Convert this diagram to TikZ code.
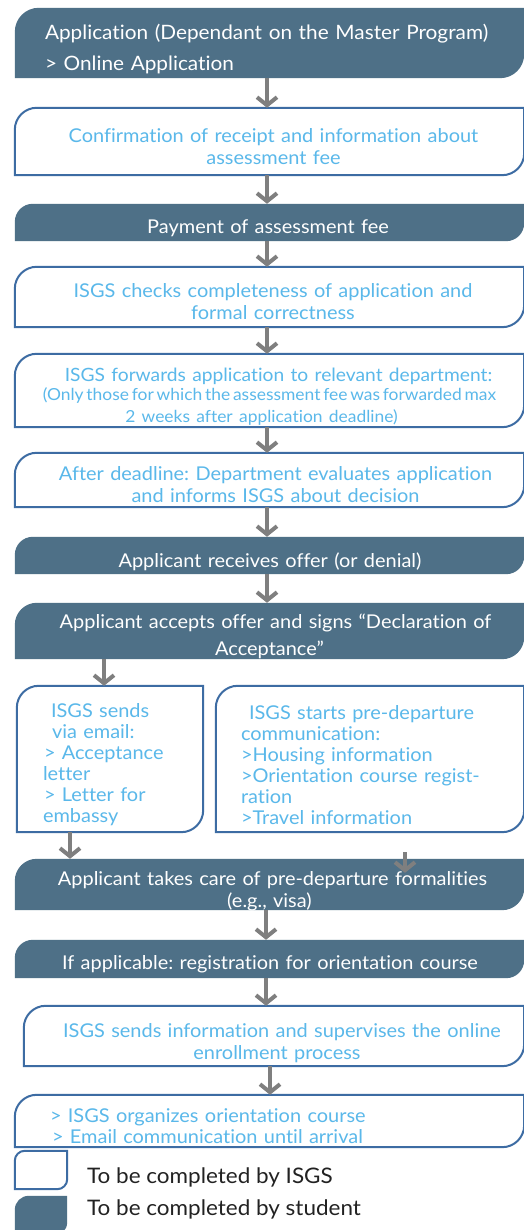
\documentclass[tikz,border=0pt]{standalone}
\usepackage{fontspec}
\setmainfont{Lato}[Ligatures=NoCommon, FakeStretch=1.05]
\usetikzlibrary{arrows.meta,backgrounds}
\definecolor{darkfill}{HTML}{4E7087}
\definecolor{bordblue}{HTML}{3D6CA3}
\definecolor{txtblue}{HTML}{5AB8EA}
\definecolor{arrgray}{HTML}{7F7F7F}
\definecolor{legtxt}{HTML}{222222}
\newcommand\fsz[2]{\fontsize{#1}{#2}\selectfont}
% rounded top-left and bottom-right corners
\newcommand\rshape[3]{%
  \begin{scope}[on background layer]
  \path[#3] (#1.south west) -- ([yshift=-#2]#1.north west)
    arc[start angle=180,end angle=90,radius=#2] -- (#1.north east)
    -- ([yshift=#2]#1.south east)
    arc[start angle=0,end angle=-90,radius=#2] -- cycle;
  \end{scope}}
\tikzset{
  box/.style={rectangle, inner sep=0pt, draw=none},
  txt/.style={inner sep=0pt, align=center, text width=490pt, font=\fsz{19}{22},
    execute at begin node={\frenchspacing}},
  stxt/.style={txt, text=white},
  itxt/.style={txt, text=txtblue},
  studfill/.style={fill=darkfill},
  isgsline/.style={fill=white, draw=bordblue, line width=2pt},
  arr/.style={draw=arrgray, line width=4pt, -{Straight Barb[length=8pt,width=20pt]}},
  legend/.style={anchor=west, inner sep=0pt, text=legtxt, font=\fsz{21.4}{22}}
}
\begin{document}
\begin{tikzpicture}[x=1pt,y=1pt]
\useasboundingbox (0,0) rectangle (523,1230);
\begin{scope}[on background layer]
\fill[white] (0,0) rectangle (523,1230);
\end{scope}

% ---- boxes (shapes) ----
\node[box, minimum width=509pt, minimum height=70pt] (b1) at (269.5,1187) {};
\rshape{b1}{24pt}{studfill}
\node[box, minimum width=509pt, minimum height=67pt] (b2) at (269.5,1088.5) {};
\rshape{b2}{22pt}{isgsline}
\node[box, minimum width=509pt, minimum height=37pt] (b3) at (269.5,1007.5) {};
\rshape{b3}{18pt}{studfill}
\node[box, minimum width=509pt, minimum height=60pt] (b4) at (269.5,933) {};
\rshape{b4}{22pt}{isgsline}
\node[box, minimum width=509pt, minimum height=73pt] (b5) at (269.5,839.5) {};
\rshape{b5}{22pt}{isgsline}
\node[box, minimum width=509pt, minimum height=54pt] (b6) at (269.5,750) {};
\rshape{b6}{22pt}{isgsline}
\node[box, minimum width=509pt, minimum height=37pt] (b7) at (269.5,674.5) {};
\rshape{b7}{18pt}{studfill}
\node[box, minimum width=509pt, minimum height=56pt] (b8) at (269.5,599) {};
\rshape{b8}{22pt}{studfill}
\node[box, minimum width=186pt, minimum height=146pt] (b9a) at (110,471) {};
\rshape{b9a}{22pt}{isgsline}
\node[box, minimum width=308pt, minimum height=146pt] (b9b) at (370,471) {};
\rshape{b9b}{22pt}{isgsline}
\node[box, minimum width=509pt, minimum height=51pt] (b10) at (269.5,345.5) {};
\rshape{b10}{22pt}{studfill}
\node[box, minimum width=509pt, minimum height=38pt] (b11) at (269.5,271) {};
\rshape{b11}{18pt}{studfill}
\node[box, minimum width=500pt, minimum height=60pt] (b12) at (274,194) {};
\rshape{b12}{22pt}{isgsline}
\node[box, minimum width=509pt, minimum height=52pt] (b13) at (269.5,109) {};
\rshape{b13}{22pt}{isgsline}
\node[box, minimum width=52pt, minimum height=38pt] (l1) at (41,60) {};
\rshape{l1}{10pt}{isgsline}
\node[box, minimum width=52pt, minimum height=40pt] (l2) at (41,14) {};
\rshape{l2}{14pt}{studfill}

% ---- texts ----
\node[stxt, anchor=west, align=left, text width=470pt, font=\fsz{19.8}{31}] (b1t) at ([xshift=30pt,yshift=-6pt]b1.west) {Application (Dependant on the Master Program)\\> Online Application};
\node[itxt] (b2t) at ([xshift=4pt,yshift=-5pt]b2.center) {Confirmation of receipt and information about\\assessment fee};
\node[stxt] (b3t) at ([xshift=-1.5pt,yshift=-6pt]b3.center) {Payment of assessment fee};
\node[itxt] (b4t) at ([xshift=3.5pt,yshift=-5pt]b4.center) {ISGS checks completeness of application and\\formal correctness};
\node[itxt] (b5t) at ([yshift=-6pt]b5.center) {{\fsz{18.3}{22}\hspace*{18pt}ISGS forwards application to relevant department:}\\[-2pt]{\fsz{16.6}{21}(Only\,those\,for\,which\,the\,assessment\,fee\,was\,forwarded\,max\\2 weeks after application deadline)\hspace*{16pt}}};
\node[itxt] (b6t) at ([xshift=6pt,yshift=-5pt]b6.center) {After deadline: Department evaluates application\\and informs ISGS about decision};
\node[stxt] (b7t) at ([xshift=0.5pt,yshift=-6pt]b7.center) {Applicant receives offer (or denial)};
\node[stxt, font=\fsz{19}{27}] (b8t) at ([yshift=-5pt]b8.center) {\hspace*{12pt}Applicant accepts offer and signs “Declaration of\\Acceptance”};
\node[itxt, anchor=west, align=left, text width=155pt, font=\fsz{19}{21}] (b9at) at ([xshift=26pt,yshift=-6pt]b9a.west) {\hspace*{8pt}ISGS sends\\\hspace*{9pt}via email:\\\hspace*{1pt}> Acceptance\\letter\\\hspace*{1pt}> Letter for\\embassy};
\node[itxt, anchor=west, align=left, text width=270pt, font=\fsz{19}{21}] (b9bt) at ([xshift=25pt,yshift=-6pt]b9b.west) {\hspace*{8pt}ISGS starts pre-departure\\communication:\\>Housing information\\>Orientation course regist-\\ration\\>Travel information};
\node[stxt] (b10t) at ([yshift=-7pt]b10.center) {\hspace*{6pt}Applicant takes care of pre-departure formalities\\(e.g., visa)};
\node[stxt] (b11t) at ([xshift=0.5pt,yshift=-5pt]b11.center) {If applicable: registration for orientation course};
\node[itxt] (b12t) at ([xshift=3pt,yshift=-7pt]b12.center) {\hspace*{10pt}ISGS sends information and supervises the online\\enrollment process};
\node[itxt, anchor=west, align=left, text width=450pt, font=\fsz{19}{21}] (b13t) at ([xshift=35pt,yshift=-5pt]b13.west) {> ISGS organizes orientation course\\\hspace*{2pt}> Email communication until arrival};
\node[legend] (t1) at (87,53) {To be completed by ISGS};
\node[legend] (t2) at (87,21) {To be completed by student};

% ---- connectors ----
\draw[arr] ([xshift=-2.5pt]b1.south) -- ([xshift=-2.5pt]b2.north);
\draw[arr] ([xshift=-2.5pt]b2.south) -- ([xshift=-2.5pt]b3.north);
\draw[arr] ([xshift=-2.5pt]b3.south) -- ([xshift=-2.5pt]b4.north);
\draw[arr] ([xshift=-2.5pt]b4.south) -- ([xshift=-2.5pt]b5.north);
\draw[arr] ([xshift=-2.5pt]b5.south) -- ([xshift=-2.5pt]b6.north);
\draw[arr] ([xshift=-2.5pt]b6.south) -- ([xshift=-2.5pt]b7.north);
\draw[arr] ([xshift=-2.5pt]b7.south) -- ([xshift=-2.5pt]b8.north);
\draw[arr] ([xshift=-165.5pt]b8.south) -- ([xshift=-6pt]b9a.north);
\draw[arr] ([xshift=-40pt]b9a.south) -- ([xshift=-199.5pt]b10.north);
\draw[arr] ([xshift=35pt,yshift=-20pt]b9b.south) -- ([xshift=135.5pt,yshift=-14pt]b10.north);
\draw[arr] ([xshift=-3.5pt]b10.south) -- ([xshift=-3.5pt]b11.north);
\draw[arr] ([xshift=-3.5pt]b11.south) -- ([xshift=-8pt]b12.north);
\draw[arr] ([xshift=-4pt]b12.south) -- ([xshift=0.5pt]b13.north);
\end{tikzpicture}
\end{document}
